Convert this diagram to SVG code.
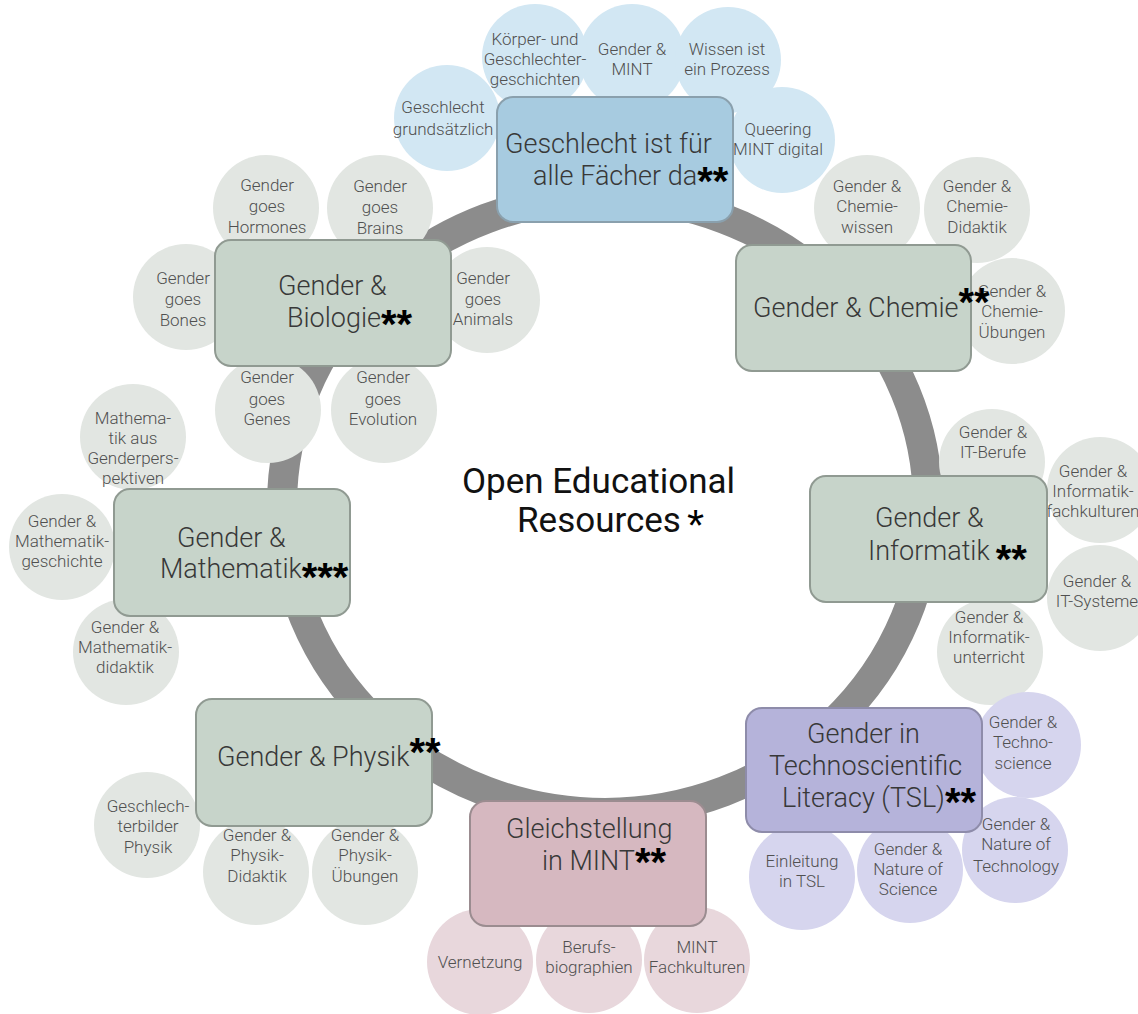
<svg xmlns="http://www.w3.org/2000/svg" width="1138" height="1014" viewBox="0 0 1138 1014">
<style>
.ring{fill:none;stroke:#8c8c8c;stroke-width:30}
.bx{stroke-width:2}
.gb{fill:#c7d4ca;stroke:#909a92}
.bb{fill:#a7cbe0;stroke:#8aa0ad}
.pb{fill:#b5b3da;stroke:#8e8caa}
.rb{fill:#d6b8c0;stroke:#9b8c90}
.gc{fill:#e2e6e2}
.bc{fill:#d2e7f3}
.pc{fill:#d6d5ee}
.rc{fill:#e8d7dc}
.t{font-family:Roboto,"Liberation Sans",sans-serif;font-weight:300;font-size:27px;fill:#383838}
.c{font-family:Roboto,"Liberation Sans",sans-serif;font-weight:300;font-size:17px;fill:#505050;text-anchor:middle}
.a{font-family:"Liberation Sans",Arial,sans-serif;font-weight:bold;font-size:40px;fill:#000}
.ctr{font-family:Roboto,"Liberation Sans",sans-serif;font-weight:400;font-size:35px;fill:#111}
.a1{font-family:"Liberation Sans",Arial,sans-serif;font-weight:normal;font-size:44px;fill:#000}
</style>

<g id="connectors">
<ellipse class="ring" cx="605" cy="505" rx="323" ry="308"/>
</g>

<!-- blue circles -->
<g id="c-gender-mint"><circle class="bc" cx="632" cy="57" r="53"/><text class="c"><tspan x="632" y="55">Gender &amp;</tspan><tspan x="632" y="75">MINT</tspan></text></g>
<g id="c-koerper"><circle class="bc" cx="535" cy="57" r="53"/><text class="c"><tspan x="535" y="45">Körper- und</tspan><tspan x="535" y="65">Geschlechter-</tspan><tspan x="535" y="85">geschichten</tspan></text></g>
<g id="c-wissen"><circle class="bc" cx="728" cy="60" r="53"/><text class="c"><tspan x="727" y="55">Wissen ist</tspan><tspan x="727" y="75">ein Prozess</tspan></text></g>
<g id="c-grundsaetzlich"><circle class="bc" cx="447" cy="118" r="53"/><text class="c"><tspan x="443" y="113">Geschlecht</tspan><tspan x="443" y="135">grundsätzlich</tspan></text></g>
<g id="c-queering"><circle class="bc" cx="782" cy="140" r="53"/><text class="c"><tspan x="778" y="135">Queering</tspan><tspan x="778" y="155">MINT digital</tspan></text></g>

<!-- biology circles -->
<g id="c-hormones"><circle class="gc" cx="266" cy="208" r="53"/><text class="c"><tspan x="267" y="191">Gender</tspan><tspan x="267" y="212">goes</tspan><tspan x="267" y="233">Hormones</tspan></text></g>
<g id="c-brains"><circle class="gc" cx="380" cy="208" r="53"/><text class="c"><tspan x="380" y="192">Gender</tspan><tspan x="380" y="213">goes</tspan><tspan x="380" y="234">Brains</tspan></text></g>
<g id="c-bones"><circle class="gc" cx="186" cy="297" r="53"/><text class="c"><tspan x="183" y="284">Gender</tspan><tspan x="183" y="305">goes</tspan><tspan x="183" y="326">Bones</tspan></text></g>
<g id="c-animals"><circle class="gc" cx="487" cy="300" r="53"/><text class="c"><tspan x="483" y="284">Gender</tspan><tspan x="483" y="305">goes</tspan><tspan x="483" y="325">Animals</tspan></text></g>
<g id="c-genes"><circle class="gc" cx="268" cy="410" r="53"/><text class="c"><tspan x="267" y="383">Gender</tspan><tspan x="267" y="405">goes</tspan><tspan x="267" y="425">Genes</tspan></text></g>
<g id="c-evolution"><circle class="gc" cx="384" cy="410" r="53"/><text class="c"><tspan x="383" y="383">Gender</tspan><tspan x="383" y="405">goes</tspan><tspan x="383" y="425">Evolution</tspan></text></g>

<!-- chemistry circles -->
<g id="c-chemiewissen"><circle class="gc" cx="867" cy="208" r="53"/><text class="c"><tspan x="867" y="192">Gender &amp;</tspan><tspan x="867" y="212">Chemie-</tspan><tspan x="867" y="233">wissen</tspan></text></g>
<g id="c-chemiedidaktik"><circle class="gc" cx="977" cy="210" r="53"/><text class="c"><tspan x="977" y="192">Gender &amp;</tspan><tspan x="977" y="212">Chemie-</tspan><tspan x="977" y="233">Didaktik</tspan></text></g>
<g id="c-chemieuebungen"><circle class="gc" cx="1012" cy="311" r="53"/><text class="c"><tspan x="1012" y="297">Gender &amp;</tspan><tspan x="1012" y="317">Chemie-</tspan><tspan x="1012" y="338">Übungen</tspan></text></g>

<!-- math circles -->
<g id="c-mathperspektiven"><circle class="gc" cx="133" cy="437" r="53"/><text class="c"><tspan x="133" y="424">Mathema-</tspan><tspan x="133" y="444">tik aus</tspan><tspan x="133" y="464">Genderpers-</tspan><tspan x="133" y="484">pektiven</tspan></text></g>
<g id="c-mathgeschichte"><circle class="gc" cx="62" cy="547" r="53"/><text class="c"><tspan x="62" y="527">Gender &amp;</tspan><tspan x="62" y="547">Mathematik-</tspan><tspan x="62" y="567">geschichte</tspan></text></g>
<g id="c-mathdidaktik"><circle class="gc" cx="126" cy="652" r="53"/><text class="c"><tspan x="125" y="633">Gender &amp;</tspan><tspan x="125" y="653">Mathematik-</tspan><tspan x="125" y="673">didaktik</tspan></text></g>

<!-- informatics circles -->
<g id="c-itberufe"><circle class="gc" cx="992" cy="462" r="53"/><text class="c"><tspan x="993" y="438">Gender &amp;</tspan><tspan x="993" y="458">IT-Berufe</tspan></text></g>
<g id="c-infofachkulturen"><circle class="gc" cx="1100" cy="490" r="53"/><text class="c"><tspan x="1093" y="477">Gender &amp;</tspan><tspan x="1093" y="497">Informatik-</tspan><tspan x="1093" y="517">fachkulturen</tspan></text></g>
<g id="c-itsysteme"><circle class="gc" cx="1100" cy="598" r="53"/><text class="c"><tspan x="1097" y="587">Gender &amp;</tspan><tspan x="1097" y="607">IT-Systeme</tspan></text></g>
<g id="c-infounterricht"><circle class="gc" cx="990" cy="652" r="53"/><text class="c"><tspan x="989" y="623">Gender &amp;</tspan><tspan x="989" y="643">Informatik-</tspan><tspan x="989" y="663">unterricht</tspan></text></g>

<!-- TSL circles -->
<g id="c-technoscience"><circle class="pc" cx="1028" cy="745" r="53"/><text class="c"><tspan x="1023" y="728">Gender &amp;</tspan><tspan x="1023" y="748">Techno-</tspan><tspan x="1023" y="769">science</tspan></text></g>
<g id="c-naturetech"><circle class="pc" cx="1015" cy="850" r="53"/><text class="c"><tspan x="1016" y="830">Gender &amp;</tspan><tspan x="1016" y="850">Nature of</tspan><tspan x="1016" y="872">Technology</tspan></text></g>
<g id="c-einleitung"><circle class="pc" cx="802" cy="877" r="53"/><text class="c"><tspan x="802" y="867">Einleitung</tspan><tspan x="802" y="887">in TSL</tspan></text></g>
<g id="c-naturescience"><circle class="pc" cx="910" cy="870" r="53"/><text class="c"><tspan x="908" y="855">Gender &amp;</tspan><tspan x="908" y="875">Nature of</tspan><tspan x="908" y="895">Science</tspan></text></g>

<!-- Gleichstellung circles -->
<g id="c-vernetzung"><circle class="rc" cx="480" cy="962" r="53"/><text class="c"><tspan x="480" y="968">Vernetzung</tspan></text></g>
<g id="c-berufsbiographien"><circle class="rc" cx="589" cy="960" r="53"/><text class="c"><tspan x="589" y="953">Berufs-</tspan><tspan x="589" y="973">biographien</tspan></text></g>
<g id="c-mintfachkulturen"><circle class="rc" cx="697" cy="960" r="53"/><text class="c"><tspan x="697" y="953">MINT</tspan><tspan x="697" y="973">Fachkulturen</tspan></text></g>

<!-- physics circles -->
<g id="c-geschlechterbilder"><circle class="gc" cx="147" cy="825" r="53"/><text class="c"><tspan x="148" y="812">Geschlech-</tspan><tspan x="148" y="832">terbilder</tspan><tspan x="148" y="853">Physik</tspan></text></g>
<g id="c-physikdidaktik"><circle class="gc" cx="256" cy="872" r="53"/><text class="c"><tspan x="257" y="841">Gender &amp;</tspan><tspan x="257" y="861">Physik-</tspan><tspan x="257" y="882">Didaktik</tspan></text></g>
<g id="c-physikuebungen"><circle class="gc" cx="365" cy="872" r="53"/><text class="c"><tspan x="365" y="841">Gender &amp;</tspan><tspan x="365" y="861">Physik-</tspan><tspan x="365" y="882">Übungen</tspan></text></g>

<!-- main boxes -->
<g id="n-geschlecht">
<rect class="bx bb" x="497" y="97" width="236" height="125" rx="16"/>
<text class="t"><tspan x="505" y="153">Geschlecht ist für</tspan><tspan x="533" y="185">alle Fächer da</tspan><tspan class="a" dy="10">**</tspan></text>
</g>
<g id="n-biologie">
<rect class="bx gb" x="215" y="240" width="236" height="126" rx="16"/>
<text class="t"><tspan x="278" y="295">Gender &amp;</tspan><tspan x="287" y="327">Biologie</tspan><tspan class="a" dy="11">**</tspan></text>
</g>
<g id="n-chemie">
<rect class="bx gb" x="736" y="245" width="235" height="126" rx="16"/>
<text class="t"><tspan x="753" y="317">Gender &amp; Chemie</tspan><tspan class="a" dy="-1">**</tspan></text>
</g>
<g id="n-mathematik">
<rect class="bx gb" x="114" y="489" width="236" height="127" rx="16"/>
<text class="t"><tspan x="177" y="547">Gender &amp;</tspan><tspan x="160" y="578">Mathematik</tspan><tspan class="a" dy="13">***</tspan></text>
</g>
<g id="n-informatik">
<rect class="bx gb" x="810" y="476" width="237" height="126" rx="16"/>
<text class="t"><tspan x="875" y="527">Gender &amp;</tspan><tspan x="868" y="560">Informatik</tspan><tspan class="a" dx="6" dy="13">**</tspan></text>
</g>
<g id="n-physik">
<rect class="bx gb" x="196" y="699" width="236" height="127" rx="16"/>
<text class="t"><tspan x="217" y="766">Gender &amp; Physik</tspan><tspan class="a" dy="0">**</tspan></text>
</g>
<g id="n-gleichstellung">
<rect class="bx rb" x="470" y="801" width="236" height="125" rx="16"/>
<text class="t"><tspan x="506" y="838">Gleichstellung</tspan><tspan x="542" y="870">in MINT</tspan><tspan class="a" dy="6">**</tspan></text>
</g>
<g id="n-tsl">
<rect class="bx pb" x="746" y="708" width="236" height="124" rx="16"/>
<text class="t"><tspan x="807" y="743">Gender in</tspan><tspan x="769" y="775">Technoscientific</tspan><tspan x="782" y="807">Literacy (TSL)</tspan><tspan class="a" dy="9">**</tspan></text>
</g>
<g id="n-oer">
<text class="ctr"><tspan x="462" y="493">Open Educational</tspan><tspan x="517" y="532">Resources</tspan><tspan class="a1" dx="6" dy="9">*</tspan></text>
</g>
</svg>
